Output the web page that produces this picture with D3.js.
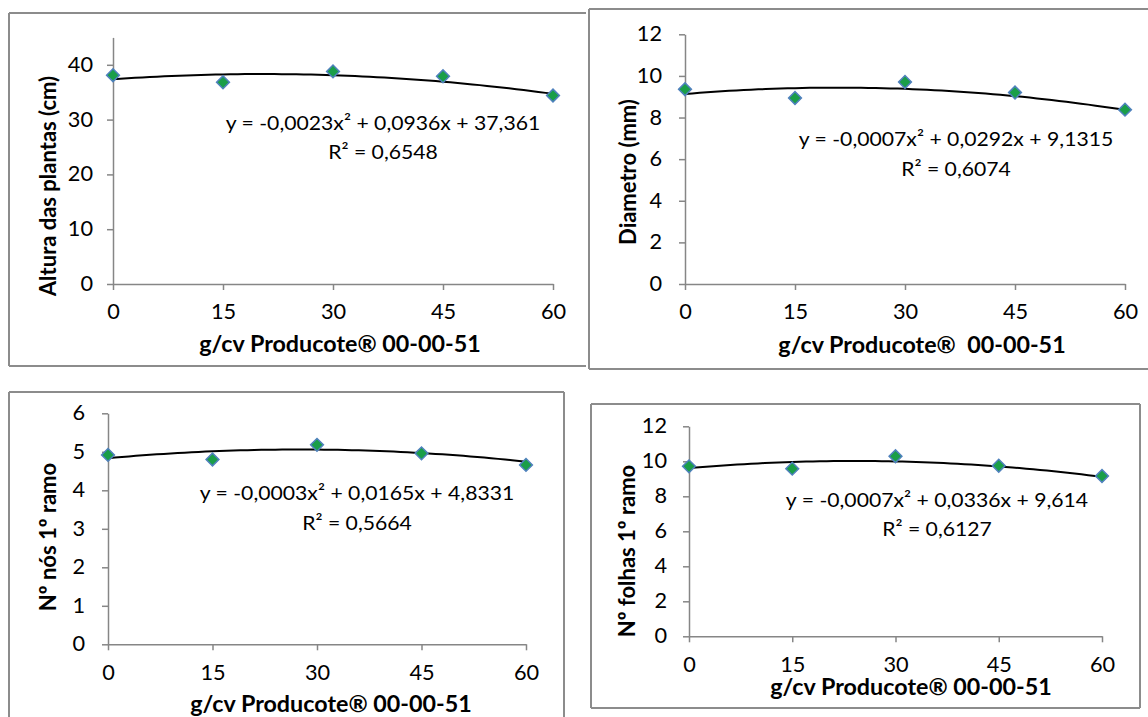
<!DOCTYPE html>
<html>
<head>
<meta charset="utf-8">
<script src="https://cdn.jsdelivr.net/npm/d3@7"></script>
<style>
  body { margin: 0; background: #fff; }
  text { font-family: Lato, "Open Sans", sans-serif; fill: #000; }
</style>
</head>
<body>
<script>
// ---- data ----
const doses = [0, 15, 30, 45, 60];
const xTicks = [0, 15, 30, 45, 60];

const altura = [38.1, 36.8, 38.8, 37.9, 34.4];
const diametro = [9.36, 8.94, 9.71, 9.2, 8.38];
const nos = [4.92, 4.80, 5.18, 4.96, 4.66];
const folhas = [9.71, 9.58, 10.29, 9.75, 9.16];

// trendline coefficients (a x^2 + b x + c) as printed on the chart
const coefAltura = [-0.0023, 0.0936, 37.361];
const coefDiametro = [-0.0007, 0.0292, 9.1315];
const coefNos = [-0.0003, 0.0165, 4.8331];
const coefFolhas = [-0.0007, 0.0336, 9.614];

const eqLabels = [
  "y = -0,0023x² + 0,0936x + 37,361",
  "y = -0,0007x² + 0,0292x + 9,1315",
  "y = -0,0003x² + 0,0165x + 4,8331",
  "y = -0,0007x² + 0,0336x + 9,614"
];
const r2Labels = ["R² = 0,6548", "R² = 0,6074", "R² = 0,5664", "R² = 0,6127"];

const yTitles = ["Altura das plantas (cm)", "Diametro (mm)", "Nº nós 1º ramo", "Nº folhas 1º ramo"];
const xTitles = ["g/cv Producote® 00-00-51", "g/cv Producote®  00-00-51",
                 "g/cv Producote® 00-00-51", "g/cv Producote® 00-00-51"];

const yTicks1 = [0, 10, 20, 30, 40];
const yTicks2 = [0, 2, 4, 6, 8, 10, 12];
const yTicks3 = [0, 1, 2, 3, 4, 5, 6];
const yTicks4 = [0, 2, 4, 6, 8, 10, 12];

const yMax = [45, 12, 6, 12];

// ---- layout ----
// the original picture is slightly stretched sideways
const sx = 1.06;

const panels = [
  {values: altura, coef: coefAltura, ticks: yTicks1, frame: [9, 13, 586, 366], sides: "ltb",
   px: [113, 553], py: [284, 37.4], padY: 14, padX: 14, yt: [48, 186], xt: [340, 352], eq: [383, 130, 159]},
  {values: diametro, coef: coefDiametro, ticks: yTicks2, frame: [589, 9, 1160, 369], sides: "ltb",
   px: [685, 1125], py: [284, 34.3], padY: 17, padX: 14, yt: [628, 172], xt: [922, 353], eq: [956, 146, 176]},
  {values: nos, coef: coefNos, ticks: yTicks3, frame: [9, 392, 564, 730], sides: "ltr",
   px: [108, 526], py: [644.3, 413.3], padY: 17, padX: 15, yt: [48, 537], xt: [331, 712], eq: [357, 500, 530]},
  {values: folhas, coef: coefFolhas, ticks: yTicks4, frame: [591, 404, 1140, 708], sides: "ltrb",
   px: [689, 1102], py: [636.3, 426.3], padY: 16, padX: 15, yt: [627, 551], xt: [911, 695], eq: [937, 507, 536]}
];

const svg = d3.select("body").append("svg")
    .attr("width", 1148)
    .attr("height", 717);

svg.append("rect").attr("width", 1148).attr("height", 717).attr("fill", "#fff");

const axisColor = "#868686";

panels.forEach(function (p, i) {
    const g = svg.append("g");
    const [fx0, fy0, fx1, fy1] = p.frame;

    // frame (only the sides visible in the picture)
    let d = "";
    if (p.sides.includes("l")) d += `M${fx0},${fy0}V${fy1}`;
    if (p.sides.includes("t")) d += `M${fx0},${fy0}H${fx1}`;
    if (p.sides.includes("r")) d += `M${fx1},${fy0}V${fy1}`;
    if (p.sides.includes("b")) d += `M${fx0},${fy1}H${fx1}`;
    g.append("path").attr("d", d).attr("fill", "none")
        .attr("stroke", "#8c8c8c").attr("stroke-width", 2);

    const x = d3.scaleLinear().domain([0, 60]).range(p.px);
    const y = d3.scaleLinear().domain([0, yMax[i]]).range(p.py);

    const yAxis = g.append("g")
        .attr("transform", `translate(${p.px[0]},0)`)
        .call(d3.axisLeft(y).tickValues(p.ticks).tickFormat(d3.format("d"))
            .tickSize(6).tickSizeOuter(0).tickPadding(p.padY));
    const xAxis = g.append("g")
        .attr("transform", `translate(0,${p.py[0]})`)
        .call(d3.axisBottom(x).tickValues(xTicks).tickFormat(d3.format("d"))
            .tickSize(6).tickSizeOuter(0).tickPadding(p.padX));

    [yAxis, xAxis].forEach(function (a) {
        a.select(".domain").attr("stroke", axisColor).attr("stroke-width", 1.5);
        a.selectAll(".tick line").attr("stroke", axisColor).attr("stroke-width", 1.5);
        a.selectAll(".tick text").attr("font-family", "Lato, sans-serif")
            .attr("font-size", 20.5).attr("fill", "#000");
    });
    yAxis.selectAll(".tick text")
        .attr("x", 0)
        .attr("transform", `translate(${-(6 + p.padY)},0) scale(${sx},1)`);
    xAxis.selectAll(".tick text")
        .attr("transform", `scale(${sx},1)`);

    // trendline from the printed coefficients
    const curvePts = d3.range(0, 60.5, 1).map(function (v) {
        return [v, p.coef[0] * v * v + p.coef[1] * v + p.coef[2]];
    });
    g.append("path")
        .datum(curvePts)
        .attr("fill", "none")
        .attr("stroke", "#000")
        .attr("stroke-width", 2)
        .attr("d", d3.line().x(function (d) { return x(d[0]); }).y(function (d) { return y(d[1]); }));

    // markers
    g.selectAll(".pt").data(p.values).enter().append("path")
        .attr("class", "pt")
        .attr("d", d3.symbol().type(d3.symbolSquare).size(82))
        .attr("transform", function (d, j) {
            return `translate(${x(doses[j])},${y(d)}) rotate(45)`;
        })
        .attr("fill", "#1a9e48")
        .attr("stroke", "#4f81bd")
        .attr("stroke-width", 1.5);

    // equation and R²
    g.append("text")
        .attr("transform", `translate(${p.eq[0]},${p.eq[1]}) scale(${sx},1)`)
        .attr("text-anchor", "middle").attr("font-size", 20)
        .text(eqLabels[i]);
    g.append("text")
        .attr("transform", `translate(${p.eq[0]},${p.eq[2]}) scale(${sx},1)`)
        .attr("text-anchor", "middle").attr("font-size", 20)
        .text(r2Labels[i]);

    // axis titles
    g.append("text")
        .attr("transform", `translate(${p.yt[0]},${p.yt[1]}) scale(${sx},1) rotate(-90)`)
        .attr("text-anchor", "middle").attr("dy", "0.35em")
        .attr("font-size", 22).attr("font-weight", 700)
        .text(yTitles[i]);
    g.append("text")
        .attr("transform", `translate(${p.xt[0]},${p.xt[1]}) scale(${sx},1)`)
        .attr("text-anchor", "middle")
        .attr("font-size", 22).attr("font-weight", 700)
        .style("white-space", "pre")
        .text(xTitles[i]);
});
</script>
</body>
</html>
